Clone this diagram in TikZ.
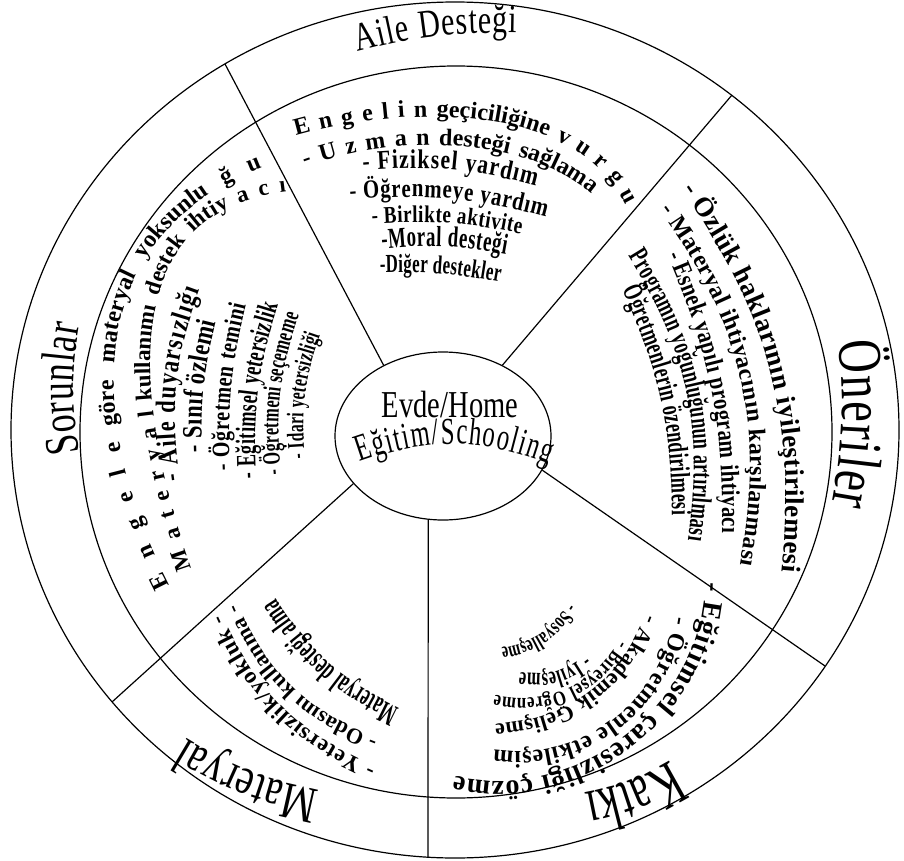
\documentclass[tikz,border=0pt]{standalone}
\usepackage{fontspec}
\setmainfont{Liberation Serif}
\newfontfamily\labelfamily[FakeStretch=0.75]{Liberation Serif}
\newfontfamily\narrowfamily[FakeStretch=0.8]{Liberation Serif}
\newfontfamily\narrowerfamily[FakeStretch=0.65]{Liberation Serif}
\newfontfamily\narrowestfamily[FakeStretch=0.55]{Liberation Serif}
\usetikzlibrary{shapes.geometric}
\usetikzlibrary{decorations.text}

\newcommand{\labelsize}[1]{\labelfamily\fontsize{#1}{#1}\selectfont}
\newcommand{\hubsize}[1]{\narrowerfamily\fontsize{#1}{#1}\selectfont}
\newcommand{\boldsize}[1]{\bfseries\fontsize{#1}{#1}\selectfont}
\newcommand{\narrowsize}[1]{\narrowfamily\bfseries\fontsize{#1}{#1}\selectfont}
\newcommand{\narrowersize}[1]{\narrowerfamily\bfseries\fontsize{#1}{#1}\selectfont}
\newcommand{\narrowestsize}[1]{\narrowestfamily\bfseries\fontsize{#1}{#1}\selectfont}

% text set along the path #3
\newcommand{\curvetext}[4][fit to path]{%
	\path[decorate, decoration={text along path, text align={#1}, text={|#2|#4}}] #3;}

\begin{document}
\begin{tikzpicture}[x=1pt, y=1pt,
		ring/.style={line width=1.2pt},
		divider/.style={line width=1.2pt},
		hub/.style={draw, ellipse, line width=1.2pt, minimum width=216pt, minimum height=168pt, inner sep=0pt}]
		\useasboundingbox (0,0) rectangle (904,-861);

		% rings
		\draw[ring] (455,-430) ellipse [x radius=444, y radius=428];
		\draw[ring] (456,-432) ellipse [x radius=376, y radius=366];

		% centre
		\node[hub] (hub) at (443,-436) {};
		\node[font=\labelsize{38}, anchor=base] (home) at (450,-417) {Evde/Home};
		\curvetext{\hubsize{38}}{(360,-462) to[bend left=20] (549,-464)}{Eğitim/Schooling}

		% spokes
		\coordinate (rimA) at (225,-64);
		\coordinate (rimB) at (732,-95);
		\coordinate (rimC) at (825,-666);
		\coordinate (rimD) at (428,-857);
		\coordinate (rimE) at (112,-702);
		\draw[divider] (hub.130) -- (rimA);
		\draw[divider] (hub.50) -- (rimB);
		\draw[divider] (hub.-19.6) -- (rimC);
		\draw[divider] (hub.-100) -- (rimD);
		\draw[divider] (hub.-152.7) -- (rimE);

		% section titles
		\curvetext{\labelsize{40}}{(358,-52) to[bend left=8] (517,-33)}{Aile Desteği}
		\curvetext{\labelsize{48}}{(80,-452) to[bend left=10] (80,-325)}{Sorunlar}
		\curvetext{\labelsize{62}}{(838,-342) to[bend left=8] (832,-505)}{Öneriler}
		\curvetext{\labelsize{52}}{(320,-790) to[bend left=10] (186,-738)}{Materyal}
		\curvetext{\hubsize{64}}{(670,-760) to[bend left=10] (588,-792)}{Katkı}

		% aile destegi
		\curvetext[fit to path stretching spaces]{\boldsize{24}}{(296,-136) .. controls (424,-100) and (580,-110) .. (626,-205)}{E n g e l i n geçiciliğine v u r g u}
		\curvetext[fit to path stretching spaces]{\boldsize{24}}{(305,-167) .. controls (399,-133) and (523,-136) .. (592,-194)}{- U z m a n desteği sağlama}
		\curvetext{\narrowsize{27}}{(363,-171) to[bend left=10] (536,-186)}{- Fiziksel yardım}
		\curvetext{\narrowsize{26}}{(350,-200) to[bend left=10] (546,-217)}{- Öğrenmeye yardım}
		\curvetext{\narrowsize{24}}{(372,-224) to[bend left=8] (521,-234)}{- Birlikte aktivite}
		\curvetext{\narrowersize{29}}{(382,-249) to[bend left=8] (506,-254)}{-Moral desteği}
		\curvetext{\narrowersize{26}}{(380,-273) to[bend left=6] (500,-282)}{-Diğer destekler}

		% sorunlar
		\curvetext[fit to path stretching spaces]{\boldsize{24}}{(170,-585) .. controls (90,-429) and (75,-240) .. (262,-168)}{E n g e l e göre materyal yoksunlu ğ u}
		\curvetext[fit to path stretching spaces]{\boldsize{23}}{(192,-568) .. controls (132,-398) and (116,-212) .. (286,-192)}{M a t e r y a l kullanımı destek ihtiy a c ı}
		\curvetext{\narrowsize{28}}{(180,-480) to[bend left=14] (200,-290)}{- Aile duyarsızlığı}
		\curvetext{\narrowsize{28}}{(202,-452) to[bend left=8] (216,-322)}{- Sınıf özlemi}
		\curvetext{\narrowsize{25}}{(230,-470) to[bend left=8] (246,-305)}{- Öğretmen temini}
		\curvetext{\narrowersize{28}}{(256,-478) to[bend left=10] (278,-305)}{- Eğitimsel yetersizlik}
		\curvetext{\narrowersize{25}}{(281,-474) to[bend left=12] (299,-315)}{- Öğretmeni seçememe}
		\curvetext{\narrowersize{24}}{(305,-458) to[bend left=12] (320,-335)}{- İdari yetersizliği}

		% oneriler
		\curvetext{\boldsize{27}}{(682,-190) to[bend left=20] (782,-572)}{- Özlük haklarının iyileştirilemesi}
		\curvetext{\boldsize{24}}{(660,-210) to[bend left=23] (740,-565)}{- Materyal ihtiyacının karşılanması}
		\curvetext{\narrowsize{26}}{(667,-255) to[bend left=12] (722,-533)}{- Esnek yapılı program ihtiyacı}
		\curvetext{\narrowersize{28}}{(628,-256) to[bend left=20] (688,-540)}{Programın yoğunluğunun artırılması}
		\curvetext{\narrowersize{28}}{(622,-290) to[bend left=12] (672,-515)}{Öğretmenlerin özendirilmesi}

		% materyal
		\curvetext{\boldsize{23}}{(376,-767) to[bend left=21] (222,-615)}{- Yetersizlik/yokluk -}
		\curvetext{\boldsize{22}}{(378,-738) to[bend left=23] (238,-604)}{- Odasını kullanma -}
		\curvetext{\narrowestsize{31}}{(400,-708) to[bend left=16] (276,-598)}{Materyal desteği alma}

		% katki
		\curvetext{\boldsize{28}}{(705,-582) to[bend left=52] (455,-776)}{- Eğitimsel çaresizliği çözme}
		\curvetext{\boldsize{24}}{(674,-616) to[bend left=45] (494,-750)}{- Öğretmenle etkileşim}
		\curvetext{\boldsize{22}}{(646,-614) to[bend left=33] (495,-724)}{- Akademik Gelişme}
		\curvetext{\narrowsize{21}}{(619,-640) to[bend left=37] (495,-695)}{- Bireysel Öğrenme}
		\curvetext{\narrowersize{25}}{(585,-655) to[bend left=25] (520,-672)}{- İyileşme}
		\curvetext{\narrowersize{22}}{(568,-603) to[bend left=25] (501,-648)}{- Sosyalleşme}
\end{tikzpicture}
\end{document}
